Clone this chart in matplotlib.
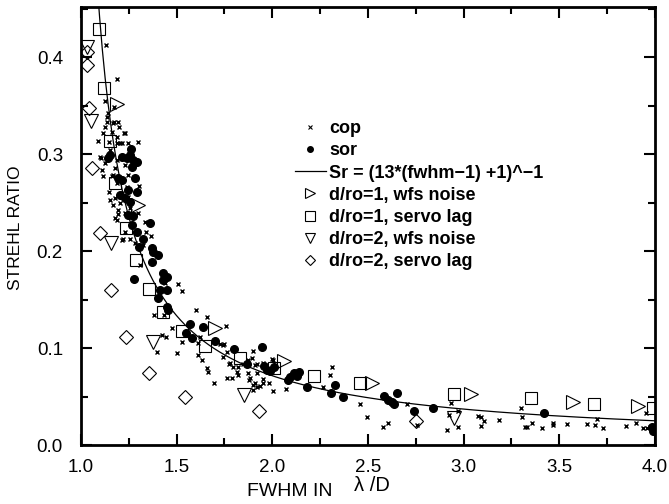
import numpy as np
import matplotlib.pyplot as plt
from matplotlib.lines import Line2D
from matplotlib.ticker import MultipleLocator

plt.rcParams['font.family'] = ['Liberation Sans', 'DejaVu Sans']

# cop (x markers)
cop_x = [1.131, 1.188, 1.125, 1.173, 1.141, 1.136, 1.136, 1.125, 1.167, 1.193, 1.199, 1.225,
         1.115, 1.089, 1.188, 1.204, 1.246, 1.298, 1.152, 1.099, 1.125, 1.110, 1.115, 1.167,
         1.303, 1.146, 1.240, 1.173, 1.162, 1.230, 1.146, 1.188, 1.214, 1.105, 1.188, 1.220,
         1.178, 1.230, 1.162, 1.188, 1.246, 1.214, 1.178, 1.152, 1.246, 1.204, 1.167, 1.193,
         1.256, 1.193, 1.298, 1.188, 1.230, 1.272, 1.335, 1.340, 1.366, 1.220, 1.256, 1.282,
         1.324, 1.230, 1.178, 1.214, 1.308, 1.439, 1.507, 1.528, 1.382, 1.434, 1.601, 1.659,
         1.758, 1.476, 1.423, 1.444, 1.397, 1.502, 1.528, 1.622, 1.612, 1.633, 1.659, 1.664,
         1.727, 1.748, 1.763, 1.742, 1.779, 1.795, 1.815, 1.821, 1.763, 1.899, 1.920, 1.873,
         1.612, 1.695, 1.789, 1.821, 1.883, 1.899, 1.910, 1.920, 1.847, 1.742, 1.774, 1.873,
         1.894, 1.910, 1.878, 1.899, 1.936, 1.951, 1.951, 1.983, 2.004, 1.998, 1.920, 2.072,
         2.265, 2.312, 2.302, 1.951, 2.004, 2.458, 2.495, 2.579, 2.605, 2.704, 2.913, 2.924,
         2.756, 2.934, 2.971, 2.971, 3.075, 3.091, 3.107, 3.091, 3.185, 3.300, 3.305, 3.321,
         3.331, 3.358, 3.410, 3.467, 3.467, 3.541, 3.645, 3.687, 3.697, 3.729, 3.849, 3.901,
         3.938, 3.959, 3.954, 3.975]
cop_y = [0.412, 0.377, 0.355, 0.348, 0.342, 0.338, 0.333, 0.328, 0.332, 0.333, 0.328, 0.322,
         0.322, 0.313, 0.318, 0.311, 0.311, 0.312, 0.304, 0.297, 0.291, 0.284, 0.277, 0.278,
         0.267, 0.261, 0.266, 0.333, 0.323, 0.322, 0.312, 0.311, 0.311, 0.296, 0.294, 0.296,
         0.286, 0.289, 0.277, 0.270, 0.278, 0.260, 0.255, 0.253, 0.256, 0.249, 0.247, 0.242,
         0.244, 0.238, 0.239, 0.232, 0.239, 0.238, 0.230, 0.220, 0.216, 0.212, 0.212, 0.208,
         0.206, 0.220, 0.234, 0.211, 0.186, 0.167, 0.166, 0.159, 0.134, 0.134, 0.139, 0.132,
         0.123, 0.121, 0.113, 0.111, 0.096, 0.095, 0.106, 0.111, 0.105, 0.088, 0.079, 0.075,
         0.104, 0.104, 0.096, 0.091, 0.085, 0.080, 0.075, 0.072, 0.069, 0.097, 0.084, 0.074,
         0.093, 0.064, 0.069, 0.080, 0.069, 0.057, 0.064, 0.060, 0.084, 0.103, 0.084, 0.088,
         0.090, 0.082, 0.067, 0.062, 0.061, 0.064, 0.068, 0.064, 0.056, 0.089, 0.074, 0.058,
         0.060, 0.080, 0.072, 0.085, 0.088, 0.042, 0.029, 0.019, 0.023, 0.042, 0.016, 0.031,
         0.021, 0.043, 0.035, 0.019, 0.030, 0.029, 0.025, 0.020, 0.026, 0.038, 0.029, 0.019,
         0.019, 0.023, 0.018, 0.023, 0.021, 0.022, 0.022, 0.021, 0.027, 0.018, 0.020, 0.023,
         0.018, 0.018, 0.033, 0.019]

# sor (filled circles)
sor_x = [1.261, 1.240, 1.272, 1.293, 1.267, 1.152, 1.141, 1.282, 1.214, 1.193, 1.246, 1.293,
         1.230, 1.256, 1.246, 1.272, 1.267, 1.293, 1.324, 1.361, 1.303, 1.371, 1.376, 1.402,
         1.371, 1.429, 1.450, 1.277, 1.429, 1.413, 1.450, 1.402, 1.450, 1.455, 1.570, 1.638,
         1.580, 1.549, 1.700, 1.800, 1.946, 1.868, 1.957, 1.972, 1.988, 2.009, 2.082, 2.093,
         2.113, 2.140, 2.129, 2.181, 2.328, 2.307, 2.370, 2.584, 2.605, 2.626, 2.636, 2.652,
         2.741, 2.840, 3.420, 3.985, 3.990, 1.214, 1.256, 1.204]
sor_y = [0.305, 0.296, 0.294, 0.292, 0.287, 0.299, 0.296, 0.275, 0.273, 0.275, 0.263, 0.261,
         0.255, 0.251, 0.237, 0.236, 0.227, 0.220, 0.212, 0.229, 0.204, 0.203, 0.199, 0.196,
         0.189, 0.177, 0.173, 0.171, 0.170, 0.160, 0.160, 0.152, 0.142, 0.139, 0.125, 0.122,
         0.110, 0.115, 0.107, 0.099, 0.101, 0.084, 0.081, 0.077, 0.076, 0.080, 0.067, 0.070,
         0.074, 0.075, 0.071, 0.060, 0.062, 0.054, 0.049, 0.051, 0.046, 0.044, 0.042, 0.054,
         0.035, 0.038, 0.033, 0.019, 0.014, 0.297, 0.299, 0.258]

# d/ro=1, wfs noise
n1_x = [1.19, 1.30, 1.70, 2.06, 2.52, 3.04, 3.57, 3.91]
n1_y = [0.352, 0.247, 0.121, 0.087, 0.064, 0.053, 0.044, 0.040]

# d/ro=1, servo lag
s1_x = [1.094, 1.12, 1.15, 1.18, 1.235, 1.29, 1.355, 1.43, 1.53, 1.65, 1.83, 2.01, 2.22,
        2.46, 2.95, 3.35, 3.68, 3.99]
s1_y = [0.429, 0.368, 0.313, 0.270, 0.224, 0.191, 0.161, 0.137, 0.118, 0.102, 0.090, 0.079,
        0.071, 0.064, 0.053, 0.048, 0.042, 0.038]

# d/ro=2, wfs noise
n2_x = [1.03, 1.05, 1.157, 1.376, 1.85, 2.95]
n2_y = [0.410, 0.334, 0.208, 0.106, 0.052, 0.028]

# d/ro=2, servo lag
s2_x = [1.03, 1.03, 1.04, 1.06, 1.10, 1.155, 1.235, 1.355, 1.545, 1.93, 2.75]
s2_y = [0.405, 0.392, 0.347, 0.286, 0.219, 0.160, 0.111, 0.074, 0.050, 0.035, 0.025]


def strehl(fwhm):
    return 1.0 / (13 * (fwhm - 1) + 1)


fwhm = np.linspace(1.09, 4.0, 400)

fig = plt.figure(figsize=(6.69, 5.04), dpi=100)
ax = fig.add_axes([0.121, 0.117, 0.858, 0.869])

ax.plot(cop_x, cop_y, ls='none', marker='x', ms=3.5, mew=1.0, color='black')
ax.plot(sor_x, sor_y, ls='none', marker='o', ms=5.5, color='black')
ax.plot(fwhm, strehl(fwhm), color='black', lw=0.9)
ax.plot(n1_x, n1_y, ls='none', marker='>', ms=10, mfc='none', mec='black', mew=0.8)
ax.plot(s1_x, s1_y, ls='none', marker='s', ms=9, mfc='none', mec='black', mew=0.8)
ax.plot(n2_x, n2_y, ls='none', marker='v', ms=10, mfc='none', mec='black', mew=0.8)
ax.plot(s2_x, s2_y, ls='none', marker='D', ms=7, mfc='none', mec='black', mew=0.8)

ax.set_xlim(1.0, 4.0)
ax.set_ylim(0.0, 0.4515)
ax.xaxis.set_major_locator(MultipleLocator(0.5))
ax.xaxis.set_minor_locator(MultipleLocator(0.25))
ax.yaxis.set_major_locator(MultipleLocator(0.1))
ax.yaxis.set_minor_locator(MultipleLocator(0.05))
ax.xaxis.set_major_formatter(lambda v, p: f'{v:.1f}')
ax.yaxis.set_major_formatter(lambda v, p: f'{v:.1f}')
ax.tick_params(which='both', direction='in', top=True, right=True, labelsize=13.5, width=1.5)
ax.tick_params(which='major', length=8)
ax.tick_params(axis='x', which='major', pad=10)
ax.tick_params(axis='y', which='major', pad=13)
ax.tick_params(which='minor', length=5)
for s in ax.spines.values():
    s.set_linewidth(2)

fig.text(0.023, 0.548, 'STREHL RATIO', rotation=90, ha='center', va='center', fontsize=12.5)
fig.text(0.433, 0.024, 'FWHM IN', ha='center', va='center', fontsize=14)
fig.text(0.556, 0.036, 'λ /D', ha='center', va='center', fontsize=14.5)

handles = [
    Line2D([], [], ls='none', marker='x', ms=3, mew=0.8, color='black'),
    Line2D([], [], ls='none', marker='o', ms=4, color='black'),
    Line2D([], [], color='black', lw=0.9),
    Line2D([], [], ls='none', marker='>', ms=6.5, mfc='none', mec='black', mew=0.8),
    Line2D([], [], ls='none', marker='s', ms=6.5, mfc='none', mec='black', mew=0.8),
    Line2D([], [], ls='none', marker='v', ms=6.5, mfc='none', mec='black', mew=0.8),
    Line2D([], [], ls='none', marker='D', ms=5, mfc='none', mec='black', mew=0.8),
]
labels = ['cop', 'sor', 'Sr = (13*(fwhm\u22121) +1)^\u22121', 'd/ro=1, wfs noise',
          'd/ro=1, servo lag', 'd/ro=2, wfs noise', 'd/ro=2, servo lag']
ax.legend(handles, labels, loc='upper left', bbox_to_anchor=(0.373, 0.742), frameon=False,
          prop={'weight': 'bold', 'size': 13}, handlelength=1.7, handletextpad=0.2,
          labelspacing=0.29, borderaxespad=0, borderpad=0)

fig.savefig('out.png', dpi=100)
